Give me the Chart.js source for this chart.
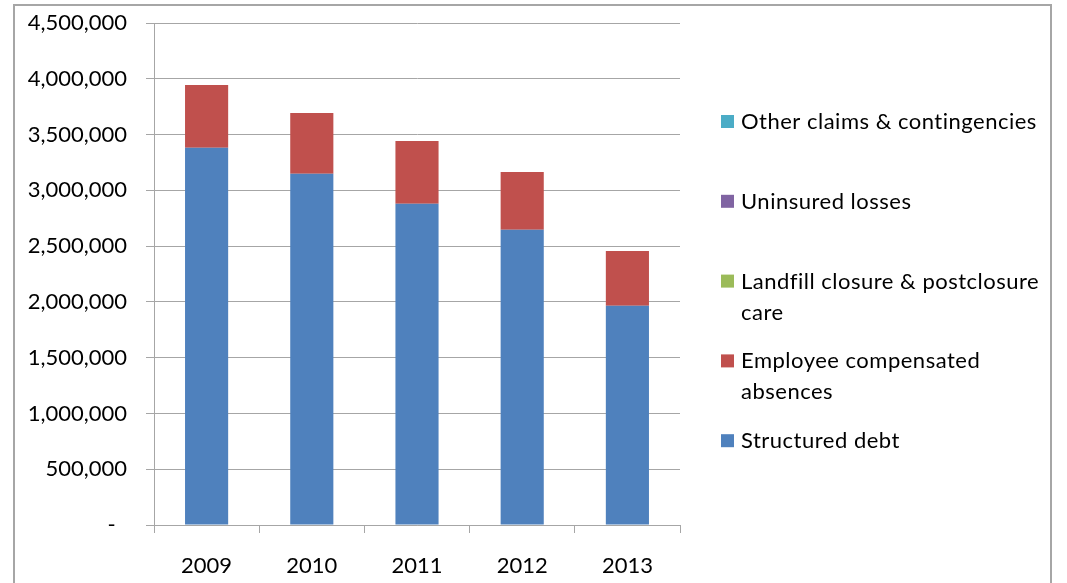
<!DOCTYPE html>
<html>
<head>
<meta charset="utf-8">
<script src="https://cdn.jsdelivr.net/npm/chart.js@4"></script>
<style>
  html, body { margin:0; padding:0; background:#fff; overflow:hidden; }
  #frame { position:absolute; left:13px; top:4px; width:1035px; height:620px; border:2px solid #a6a6a6; }
  #c { position:absolute; left:0; top:0; }
</style>
</head>
<body>
<div id="frame"></div>
<canvas id="c" width="1067" height="583"></canvas>
<script>
const years = ['2009', '2010', '2011', '2012', '2013'];
const structuredDebt = [3382000, 3149000, 2880000, 2647000, 1966000];
const compensatedAbsences = [562000, 544000, 562000, 517000, 490000];
const landfillCare = [0, 0, 0, 0, 0];
const uninsuredLosses = [0, 0, 0, 0, 0];
const otherClaims = [0, 0, 0, 0, 0];

const seriesNames = ['Structured debt', 'Employee compensated absences', 'Landfill closure & postclosure care', 'Uninsured losses', 'Other claims & contingencies'];
const seriesColors = ['#4f81bd', '#c0504d', '#9bbb59', '#8064a2', '#4bacc6'];
const seriesData = [structuredDebt, compensatedAbsences, landfillCare, uninsuredLosses, otherClaims];

const FONT = 'Lato, "Open Sans", sans-serif';

// legend drawn on the right, top entry = last series
const sideLegend = {
  id: 'sideLegend',
  afterDraw(chart) {
    const ctx = chart.ctx;
    ctx.save();
    ctx.font = '22px ' + FONT;
    ctx.letterSpacing = '0.5px';
    ctx.textBaseline = 'middle';
    const x0 = 721, tx = 741, maxW = 310;
    let y = 122;
    chart.data.datasets.slice().reverse().forEach(ds => {
      ctx.fillStyle = ds.backgroundColor;
      ctx.fillRect(x0, y - 7, 13, 13);
      ctx.fillStyle = '#000';
      const words = ds.label.split(' ');
      let line = '', ly = y;
      words.forEach(w => {
        const test = line ? line + ' ' + w : w;
        if (ctx.measureText(test).width > maxW && line) {
          ctx.fillText(line, tx, ly);
          line = w; ly += 31;
        } else line = test;
      });
      ctx.fillText(line, tx, ly);
      y += 79.8;
    });
    ctx.restore();
  }
};

new Chart(document.getElementById('c'), {
  type: 'bar',
  data: {
    labels: years,
    datasets: seriesData.map((d, i) => ({
      label: seriesNames[i], data: d, backgroundColor: seriesColors[i],
      barPercentage: 0.41, categoryPercentage: 1
    }))
  },
  options: {
    responsive: false,
    animation: false,
    devicePixelRatio: 1,
    layout: { padding: { left: 0, top: 23, right: 387, bottom: 0 } },
    plugins: { legend: { display: false }, tooltip: { enabled: false } },
    scales: {
      x: {
        stacked: true,
        afterFit(s) { s.height = 58; },
        grid: { display: true, drawOnChartArea: false, drawTicks: true, tickLength: 8, color: '#a6a6a6' },
        border: { color: '#a6a6a6' },
        ticks: { color: '#000', font: { family: FONT, size: 22 }, padding: 20 }
      },
      y: {
        stacked: true, min: 0, max: 4500000,
        afterFit(s) { s.width = 154; s.paddingTop = 0; s.paddingBottom = 0; },
        grid: { color: '#a6a6a6', tickLength: 8 },
        border: { color: '#a6a6a6' },
        ticks: {
          stepSize: 500000, color: '#000', padding: 19,
          font: { family: FONT, size: 22 },
          callback: v => v === 0 ? '-  ' : v.toLocaleString('en-US')
        }
      }
    }
  },
  plugins: [sideLegend]
});
</script>
</body>
</html>
